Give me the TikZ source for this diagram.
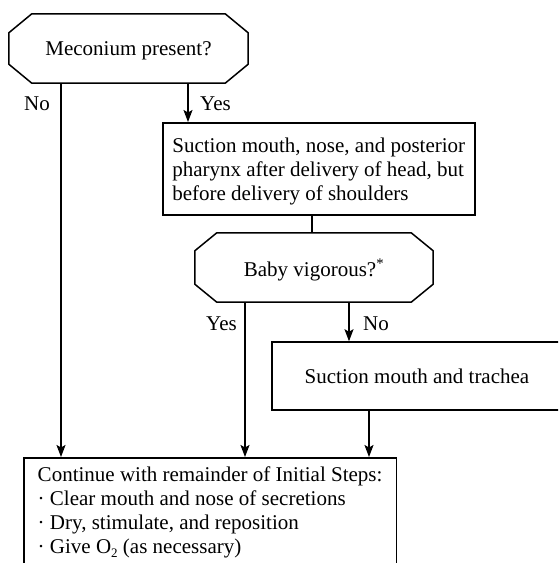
\documentclass[tikz,border=0pt]{standalone}
\usepackage{fontspec}
\setmainfont{Liberation Serif}
\usetikzlibrary{arrows.meta}
\newcommand\octoutline[3]{%
  \draw[lw] ([xshift=#2]#1.north west) -- ([xshift=-#2]#1.north east)
    -- ([yshift=-#3]#1.north east) -- ([yshift=#3]#1.south east)
    -- ([xshift=-#2]#1.south east) -- ([xshift=#2]#1.south west)
    -- ([yshift=#3]#1.south west) -- ([yshift=-#3]#1.north west) -- cycle;}
\newcommand\lowtwo{\raisebox{-4pt}{\fontsize{13}{13}\selectfont 2}}
\begin{document}
\begin{tikzpicture}[x=1pt,y=-1pt,
  lw/.style={line width=1.5pt},
  arr/.style={lw,-{Stealth[length=12pt,width=9pt,inset=2.5pt]}},
  txt/.style={font=\fontsize{21}{24}\selectfont},
  decision/.style={txt,inner sep=0pt,align=center,text depth=0pt},
  procbox/.style={txt,draw,lw,inner sep=0pt},
  lbl/.style={txt,inner sep=0pt}]
\useasboundingbox (0,0) rectangle (558,563);
\clip (0,0) rectangle (558,563);

% nodes
\node[decision,minimum width=239pt,minimum height=69pt] (m) at (128.5,48.5) {Meconium present?};
\octoutline{m}{23pt}{19pt}

\node[procbox,align=left,anchor=north west,inner xsep=8pt,
      minimum width=312pt,text height=78pt,text depth=14pt] (s1) at (162,122)
  {Suction mouth, nose, and posterior\\pharynx after delivery of head, but\\before delivery of shoulders};

\node[decision,minimum width=238pt,minimum height=69pt] (b) at (314,267.5) {Baby vigorous?\textsuperscript{*}};
\octoutline{b}{22pt}{18pt}

\node[procbox,minimum width=290pt,minimum height=68pt,text depth=0pt] (s2) at (417,376) {Suction mouth and trachea};

\node[procbox,align=left,anchor=north west,inner xsep=14pt,
      text height=96pt,text depth=30pt] (f) at (23,457)
  {Continue with remainder of Initial Steps:\\
   · Clear mouth and nose of secretions\\
   · Dry, stimulate, and reposition\\
   · Give O\lowtwo\ (as necessary)};

% connector columns
\coordinate (xno)  at (61,0);
\coordinate (xyes) at (188,0);
\coordinate (xmid) at (312,0);
\coordinate (xyes2) at (245,0);
\coordinate (xno2) at (349,0);
\coordinate (xs2) at (369,0);

\draw[arr] (xno |- m.south) -- (xno |- f.north);
\draw[arr] (xyes |- m.south) -- (xyes |- s1.north);
\draw[lw] (xmid |- s1.south) -- (xmid |- b.north);
\draw[arr] (xyes2 |- b.south) -- (xyes2 |- f.north);
\draw[arr] (xno2 |- b.south) -- (xno2 |- s2.north);
\draw[arr] (xs2 |- s2.south) -- (xs2 |- f.north);

% labels
\node[lbl,anchor=base east] (lno1) at (50,110) {No};
\node[lbl,anchor=base west] (lyes1) at (200,110) {Yes};
\node[lbl,anchor=base east] (lyes2) at (237,330) {Yes};
\node[lbl,anchor=base west] (lno2) at (363,330) {No};
\end{tikzpicture}
\end{document}
